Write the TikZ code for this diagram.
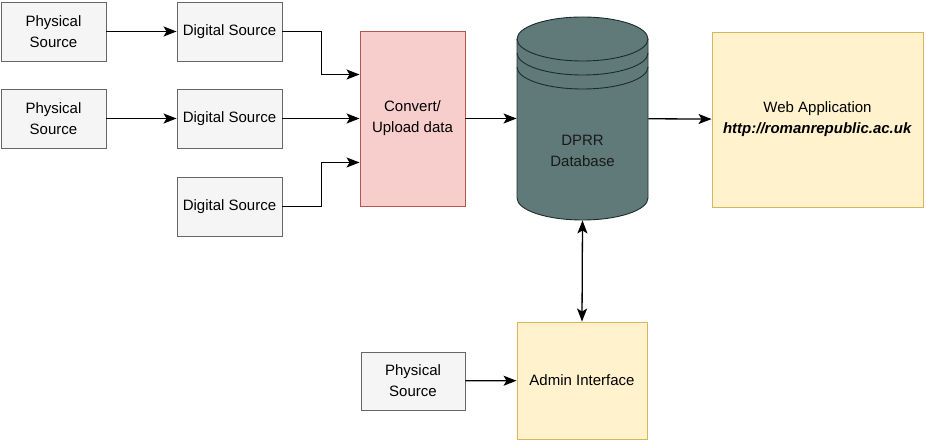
\documentclass[tikz,border=0pt]{standalone}
\usepackage{fontspec}
\setmainfont{Liberation Sans}
\usetikzlibrary{arrows.meta,calc}
\definecolor{srcfill}{HTML}{F5F5F5}
\definecolor{srcline}{HTML}{666666}
\definecolor{convfill}{HTML}{F8CECC}
\definecolor{convline}{HTML}{B85450}
\definecolor{appfill}{HTML}{FFF2CC}
\definecolor{appline}{HTML}{D6B656}
\definecolor{dbfill}{HTML}{5F7A79}
\definecolor{dbline}{HTML}{1E2B2B}

\begin{document}
\begin{tikzpicture}[x=1pt,y=-1pt,
		box/.style={rectangle, inner sep=0pt, align=center, font=\fontsize{15}{21}\selectfont, line width=0.9pt},
		source/.style={box, draw=srcline, fill=srcfill, minimum width=105pt, minimum height=59pt},
		convert/.style={box, draw=convline, fill=convfill, minimum width=105pt, minimum height=175pt},
		app/.style={box, draw=appline, fill=appfill},
		link/.style={line width=1.3pt, -{Stealth[length=13pt,width=10pt,inset=3pt]}},
		both/.style={line width=1.3pt, {Stealth[length=13pt,width=10pt,inset=3pt]}-{Stealth[length=13pt,width=10pt,inset=3pt]}}]
		\useasboundingbox (0,0) rectangle (926,443);

		\node[source] (phys1) at (53.5,31.5) {Physical\\Source};
		\node[source] (phys2) at (53.5,118.5) {Physical\\Source};
		\node[source] (dig1) at (229.5,31.5) {Digital Source};
		\node[source] (dig2) at (229.5,118.5) {Digital Source};
		\node[source] (dig3) at (229.5,206.5) {Digital Source};
		\node[convert] (conv) at (412.5,118.5) {Convert/\\Upload data};

		% database cylinder
		\draw[fill=dbfill, draw=dbline, line width=0.9pt] (517,39) -- (517,198)
			arc[start angle=180, end angle=360, x radius=65.5pt, y radius=22pt] -- (648,39)
			arc[start angle=0, end angle=180, x radius=65.5pt, y radius=22pt] -- cycle;
		\foreach \dy in {0,14,28}
			\draw[draw=dbline, line width=0.9pt] (517,39+\dy) arc[start angle=180, end angle=360, x radius=65.5pt, y radius=22pt];
		\node[box, minimum width=131pt, minimum height=203pt, text=black!90] (db) at (582.5,118.5) {\\[54pt]DPRR\\Database};

		\node[app, minimum width=211pt, minimum height=175pt] (web) at (817.5,119.5) {Web Application\\\textbf{\textit{http://romanrepublic.ac.uk}}};
		\node[app, minimum width=130pt, minimum height=117pt] (admin) at (582,380.5) {Admin Interface};
		\node[source, minimum width=104pt, minimum height=58pt] (phys3) at (413,381) {Physical\\Source};

		\draw[link] (phys1) -- (dig1);
		\draw[link] (phys2) -- (dig2);
		\draw[link] (dig1.east) -- ++(39,0) |- ($(conv.north west)!0.25!(conv.south west)$);
		\draw[link] (dig2) -- (conv);
		\draw[link] (dig3.east) -- ++(39,0) |- ($(conv.north west)!0.75!(conv.south west)$);
		\draw[link] (conv) -- (db);
		\draw[link] (db) -- (web);
		\draw[both] (db.south) -- (admin.north);
		\draw[link] (phys3) -- (admin);
\end{tikzpicture}
\end{document}
